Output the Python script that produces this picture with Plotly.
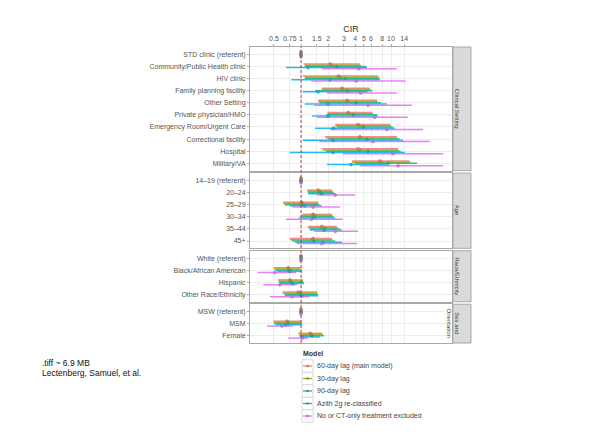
import plotly.graph_objects as go
from plotly.subplots import make_subplots

# ---- facet rows -------------------------------------------------------------
panel_names = ["Clinical Setting", "Age", "Race/Ethnicity", "Sex and<br>Orientation"]
clinical_rows = ["STD clinic (referent)", "Community/Public Health clinic", "HIV clinic",
                 "Family planning facility", "Other Setting", "Private physician/HMO",
                 "Emergency Room/Urgent Care", "Correctional facility", "Hospital", "Military/VA"]
age_rows = ["14\u201319 (referent)", "20\u201324", "25\u201329", "30\u201334", "35\u201344", "45+"]
race_rows = ["White (referent)", "Black/African American", "Hispanic", "Other Race/Ethnicity"]
sex_rows = ["MSW (referent)", "MSM", "Female"]

# ---- models -----------------------------------------------------------------
models = ["60-day lag (main model)", "30-day lag", "90-day lag",
          "Azith 2g re-classified", "No or CT-only treatment excluded"]
model_colors = ["#F8766D", "#A3A500", "#00BF7D", "#00B0F6", "#E76BF3"]

# CIR estimates and 95% CI bounds, rows in order: clinical, age, race, sex
est_60 = [1, 2.1, 2.6, 2.85, 3.25, 3.35, 4.3, 4.5, 4.3, 7.5,
          1, 1.55, 1.02, 1.36, 1.7, 1.36,
          1, 0.72, 0.75, 0.93,
          1, 0.7, 1.26]
lo_60 = [1, 1.07, 1.05, 1.7, 1.55, 1.95, 2.4, 1.85, 1.7, 3.7,
         1, 1.17, 0.63, 1.03, 1.2, 0.75,
         1, 0.5, 0.55, 0.62,
         1, 0.49, 0.93]
hi_60 = [1, 4.5, 7.2, 5.8, 7.0, 6.2, 9.8, 11.6, 12.0, 16.0,
         1, 2.2, 1.55, 2.2, 2.5, 2.2,
         1, 1.0, 1.05, 1.5,
         1, 1.02, 1.71]

est_30 = [1, 2.2, 2.7, 2.9, 3.3, 3.4, 4.4, 4.6, 4.5, 7.8,
          1, 1.6, 1.0, 1.4, 1.75, 1.33,
          1, 0.72, 0.76, 0.96,
          1, 0.71, 1.3]
lo_30 = [1, 1.1, 1.1, 1.7, 1.55, 2.0, 2.4, 1.9, 1.75, 3.7,
         1, 1.18, 0.64, 1.0, 1.2, 0.76,
         1, 0.5, 0.56, 0.63,
         1, 0.5, 0.95]
hi_30 = [1, 4.6, 7.3, 5.9, 7.1, 6.3, 10.0, 11.8, 12.2, 16.5,
         1, 2.25, 1.57, 2.25, 2.55, 2.25,
         1, 0.98, 1.05, 1.52,
         1, 1.0, 1.75]

est_90 = [1, 2.5, 3.1, 3.25, 4.1, 3.8, 4.9, 5.4, 5.55, 9.3,
          1, 1.63, 1.03, 1.42, 1.85, 1.4,
          1, 0.74, 0.78, 1.0,
          1, 0.72, 1.32]
lo_90 = [1, 1.1, 1.1, 1.43, 1.6, 1.9, 2.5, 2.0, 1.9, 4.0,
         1, 1.2, 0.66, 1.0, 1.25, 0.8,
         1, 0.52, 0.57, 0.66,
         1, 0.5, 0.96]
hi_90 = [1, 5.3, 7.5, 6.2, 7.8, 7.0, 10.5, 12.5, 12.8, 19.5,
         1, 2.3, 1.6, 2.3, 2.7, 2.4,
         1, 1.02, 1.07, 1.55,
         1, 1.03, 1.8]

est_az = [1, 1.2, 2.1, 1.55, 2.0, 2.0, 2.3, 2.27, 2.27, 3.6,
          1, 1.7, 1.1, 1.35, 1.8, 1.75,
          1, 0.75, 0.8, 1.02,
          1, 0.67, 1.05]
lo_az = [1, 0.68, 0.78, 1.05, 1.1, 1.33, 1.43, 1.05, 0.75, 1.95,
         1, 1.2, 0.75, 0.95, 1.25, 0.86,
         1, 0.54, 0.58, 0.66,
         1, 0.52, 0.98]
hi_az = [1, 5.4, 7.5, 5.5, 9.0, 7.2, 11.0, 13.6, 14.3, 9.0,
         1, 2.4, 1.7, 2.4, 2.85, 2.85,
         1, 1.03, 1.08, 1.55,
         1, 1.03, 1.62]

est_ct = [1, 4.4, 4.1, 4.6, 5.55, 6.6, 9.0, 6.3, 10.5, 12.0,
          1, 2.4, 1.36, 1.3, 2.4, 1.7,
          1, 0.51, 0.58, 0.8,
          1, 0.61, 1.03]
lo_ct = [1, 1.7, 1.3, 1.95, 1.4, 1.5, 2.1, 1.6, 2.9, 4.5,
         1, 1.5, 0.8, 0.68, 1.4, 0.9,
         1, 0.33, 0.38, 0.45,
         1, 0.42, 0.72]
hi_ct = [1, 11.6, 14.5, 11.6, 17.0, 15.4, 22.7, 27.0, 38.0, 38.0,
         1, 4.0, 2.7, 2.9, 4.3, 4.2,
         1, 0.88, 0.9, 1.25,
         1, 0.82, 1.2]

x_ticks = [0.5, 0.75, 1, 1.5, 2, 3, 4, 5, 6, 8, 10, 14]
x_tick_text = ["0.5", "0.75", "1", "1.5", "2", "3", "4", "5", "6", "8", "10", "14"]

# ---- assemble ---------------------------------------------------------------
panel_rows = [clinical_rows, age_rows, race_rows, sex_rows]
series = [(est_60, lo_60, hi_60), (est_30, lo_30, hi_30), (est_90, lo_90, hi_90),
          (est_az, lo_az, hi_az), (est_ct, lo_ct, hi_ct)]
dodge = [-0.2, -0.1, 0.0, 0.1, 0.2]

FONT = "Liberation Sans, Arial, sans-serif"
TXT = "#555555"
GRID = "#EDEDED"
BORDER = "#A8A8A8"

fig = make_subplots(rows=4, cols=1, shared_xaxes=True, vertical_spacing=0.0085,
                    row_heights=[len(r) + 0.2 for r in panel_rows])

start = 0
for p, rows in enumerate(panel_rows):
    n = len(rows)
    # CI segments first, then point estimates on top
    for m, (est, lo, hi) in enumerate(series):
        xs, ys = [], []
        for i in range(n):
            xs += [lo[start + i], hi[start + i], None]
            ys += [i + dodge[m], i + dodge[m], None]
        fig.add_trace(go.Scatter(x=xs, y=ys, mode="lines", showlegend=False,
                                 line=dict(color=model_colors[m], width=1.5),
                                 opacity=0.85, hoverinfo="skip"), row=p + 1, col=1)
    for m, (est, lo, hi) in enumerate(series):
        fig.add_trace(go.Scatter(x=est[start:start + n],
                                 y=[i + dodge[m] for i in range(n)],
                                 mode="markers", showlegend=False, name=models[m],
                                 marker=dict(color=model_colors[m], size=3,
                                             line=dict(width=0.4, color="#777777"))),
                      row=p + 1, col=1)
    fig.update_yaxes(row=p + 1, col=1, range=[n - 1 + 0.6, -0.6],
                     tickvals=list(range(n)), ticktext=rows,
                     tickfont=dict(size=7, color=TXT, family=FONT),
                     ticks="outside", ticklen=2, tickcolor=BORDER,
                     showgrid=True, gridcolor=GRID, gridwidth=1, zeroline=False,
                     showline=True, mirror=True, linecolor=BORDER, linewidth=1)
    start += n

fig.update_xaxes(type="log", range=[-0.567, 1.678], tickvals=x_ticks, ticktext=x_tick_text,
                 showgrid=True, gridcolor=GRID, gridwidth=1, zeroline=False,
                 showline=True, mirror=True, linecolor=BORDER, linewidth=1,
                 showticklabels=False, ticks="")
fig.update_xaxes(row=1, col=1, side="top", showticklabels=True, ticks="outside",
                 ticklen=2, tickcolor=BORDER,
                 tickfont=dict(size=7, color=TXT, family=FONT),
                 title=dict(text="CIR", font=dict(size=9, color="#333333", family=FONT),
                            standoff=1))

# reference line at CIR = 1
fig.add_shape(type="line", xref="x", yref="paper", x0=1, x1=1, y0=0, y1=1,
              line=dict(color="#B84040", width=1, dash="3px,2px"))

# facet strips on the right
for p, name in enumerate(panel_names):
    yref = "y domain" if p == 0 else f"y{p + 1} domain"
    fig.add_shape(type="rect", xref="paper", yref=yref, x0=1.005, x1=1.094, y0=0, y1=1,
                  fillcolor="#DADADA", line=dict(color=BORDER, width=1))
    fig.add_annotation(xref="paper", yref=yref, x=1.0495, y=0.5, text=name,
                       showarrow=False, textangle=90,
                       font=dict(size=6, color="#444444", family=FONT))

# legend drawn below the panels
L, T, PW, PH = 250, 47, 202, 296


def px(xp):
    return (xp - L) / PW


def py(yp):
    return (T + PH - yp) / PH


fig.add_annotation(xref="paper", yref="paper", x=px(301), y=py(354), text="<b>Model</b>",
                   showarrow=False, xanchor="left", yanchor="middle",
                   font=dict(size=7, color="#333333", family=FONT))
for m, name in enumerate(models):
    yc = 366 + 12.5 * m
    fig.add_shape(type="rect", xref="paper", yref="paper",
                  x0=px(302), x1=px(313), y0=py(yc - 6.25), y1=py(yc + 6.25),
                  fillcolor="white", line=dict(color="#D8D8D8", width=1))
    fig.add_shape(type="line", xref="paper", yref="paper",
                  x0=px(303), x1=px(312), y0=py(yc), y1=py(yc),
                  line=dict(color=model_colors[m], width=1.2))
    fig.add_shape(type="circle", xref="paper", yref="paper",
                  x0=px(306.5), x1=px(308.5), y0=py(yc - 1), y1=py(yc + 1),
                  fillcolor=model_colors[m], line=dict(color="#666666", width=0.4))
    fig.add_annotation(xref="paper", yref="paper", x=px(315), y=py(yc), text=name,
                       showarrow=False, xanchor="left", yanchor="middle",
                       font=dict(size=7, color="#444444", family=FONT))

# source note
fig.add_annotation(xref="paper", yref="paper", x=px(40), y=py(363),
                   text=".tiff ~ 6.9 MB", showarrow=False, xanchor="left", yanchor="middle",
                   font=dict(size=8.5, color="#111111", family=FONT))
fig.add_annotation(xref="paper", yref="paper", x=px(40), y=py(373),
                   text="Lectenberg, Samuel, et al.", showarrow=False, xanchor="left",
                   yanchor="middle", font=dict(size=8.5, color="#111111", family=FONT))

fig.update_layout(width=602, height=447, margin=dict(l=L, r=602 - L - PW, t=T, b=447 - T - PH),
                  paper_bgcolor="white", plot_bgcolor="white", showlegend=False,
                  font=dict(family=FONT))

fig.write_html("out.html")
